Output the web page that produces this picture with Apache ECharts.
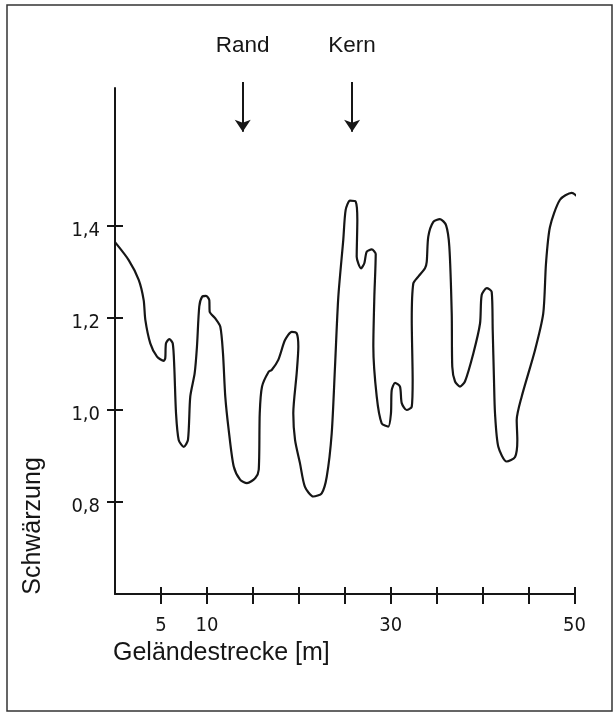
<!DOCTYPE html>
<html>
<head>
<meta charset="utf-8">
<title>Schwärzung</title>
<script src="https://cdn.jsdelivr.net/npm/echarts@6/dist/echarts.min.js"></script>
<style>
  html, body { margin: 0; padding: 0; background: #fff; }
  #main { width: 614px; height: 714px; }
</style>
</head>
<body>
<div id="main"></div>
<script>
// Messpunkte der Schwärzungskurve (Geländestrecke in m, Schwärzung)
var traceX = [0, 1.49, 2.58, 3.12, 3.30, 3.84, 4.57, 5.30, 5.47, 5.55, 5.91, 6.28, 6.45, 6.64, 6.93, 7.48, 7.94, 8.19, 8.67, 8.92,
  9.17, 9.47, 9.90, 10.26, 10.30, 10.91, 11.46, 11.75, 12.00, 12.37, 12.92, 13.63, 14.36, 15.27, 15.64, 15.75, 16.00, 16.72, 17.05, 17.77,
  18.50, 19.23, 19.77, 19.95, 19.77, 19.40, 19.59, 20.13, 20.67, 21.58, 22.49, 23.04, 23.58, 23.94, 24.30, 24.84, 25.10, 25.57, 26.19, 26.37,
  26.30, 26.77, 27.13, 27.39, 27.93, 28.37, 28.22, 28.11, 28.48, 29.02, 29.74, 30.03, 30.11, 30.47, 31.01, 31.20, 31.74, 32.29, 32.39, 32.29,
  32.46, 33.00, 33.73, 33.92, 34.09, 34.64, 35.36, 36.02, 36.38, 36.64, 36.70, 37.00, 37.54, 38.08, 38.99, 39.72, 39.90, 40.45, 40.99, 41.10,
  41.24, 41.35, 41.71, 42.62, 43.53, 43.78, 43.71, 44.25, 45.70, 46.60, 46.90, 47.33, 48.42, 49.69, 50.60, 51.14, 51.14];
var traceY = [1.365, 1.326, 1.283, 1.239, 1.196, 1.145, 1.116, 1.107, 1.113, 1.145, 1.154, 1.145, 1.094, 0.993, 0.935, 0.920, 0.935, 1.029, 1.080, 1.138,
  1.225, 1.246, 1.248, 1.239, 1.214, 1.199, 1.181, 1.123, 1.029, 0.957, 0.877, 0.848, 0.841, 0.852, 0.870, 0.993, 1.051, 1.083, 1.087, 1.109,
  1.152, 1.170, 1.167, 1.138, 1.080, 0.993, 0.935, 0.884, 0.833, 0.812, 0.819, 0.855, 0.949, 1.094, 1.246, 1.370, 1.435, 1.455, 1.453, 1.413,
  1.333, 1.308, 1.319, 1.344, 1.349, 1.339, 1.246, 1.138, 1.029, 0.971, 0.964, 0.993, 1.043, 1.059, 1.051, 1.015, 1.000, 1.007, 1.065, 1.196,
  1.275, 1.290, 1.308, 1.322, 1.377, 1.409, 1.415, 1.402, 1.355, 1.210, 1.094, 1.062, 1.051, 1.062, 1.123, 1.188, 1.250, 1.265, 1.257, 1.174,
  1.065, 0.993, 0.920, 0.888, 0.898, 0.935, 0.978, 1.029, 1.130, 1.210, 1.319, 1.398, 1.457, 1.472, 1.457, 1.428, 1.409];

var xTicks = [5, 10, 15, 20, 25, 30, 35, 40, 45, 50];
var xLabels = [5, 10, 30, 50];
var yTicks = [0.8, 1.0, 1.2, 1.4];

// Pfeile über der Kurve
var arrowNames = ['Rand', 'Kern'];
var arrowX = [13.9, 25.8];
var arrowTop = 1.713;
var arrowEnd = 1.605;

var ink = '#161616';
var narrow = '"Liberation Sans Narrow", "DejaVu Sans Condensed", "Liberation Sans", sans-serif';
var regular = '"Liberation Sans", Arial, sans-serif';

var myChart = echarts.init(document.getElementById('main'));

var points = traceX.map(function (x, i) { return [x, traceY[i]]; });

var option = {
  animation: false,
  grid: { left: 115, right: 39.5, top: 88, bottom: 120 },
  xAxis: [{
    type: 'value', min: 0, max: 50, position: 'bottom',
    axisLine: { lineStyle: { color: ink, width: 2 } },
    axisTick: { customValues: xTicks, length: 10, lineStyle: { color: ink, width: 2 } },
    axisLabel: {
      customValues: xLabels, margin: 22, color: ink, fontSize: 20,
      fontFamily: narrow
    },
    splitLine: { show: false }
  }, {
    type: 'value', min: 0, max: 50, position: 'bottom',
    axisLine: { show: false },
    axisTick: { customValues: xTicks, inside: true, length: 7, lineStyle: { color: ink, width: 2 } },
    axisLabel: { show: false },
    splitLine: { show: false }
  }],
  yAxis: [{
    type: 'value', min: 0.6, max: 1.7, position: 'left',
    axisLine: { show: true, lineStyle: { color: ink, width: 2 } },
    axisTick: { show: true, customValues: yTicks, length: 8, lineStyle: { color: ink, width: 2 } },
    axisLabel: {
      customValues: yTicks, margin: 15, color: ink, fontSize: 20,
      fontFamily: narrow, verticalAlign: 'top', lineHeight: 10,
      formatter: function (v) { return v.toFixed(1).replace('.', ','); }
    },
    splitLine: { show: false }
  }, {
    type: 'value', min: 0.6, max: 1.7, position: 'left',
    axisLine: { show: false },
    axisTick: { show: true, customValues: yTicks, inside: true, length: 8, lineStyle: { color: ink, width: 2 } },
    axisLabel: { show: false },
    splitLine: { show: false }
  }],
  series: [{
    type: 'line',
    data: points,
    smooth: 0.25,
    showSymbol: false,
    symbol: 'none',
    clip: false,
    lineStyle: { color: ink, width: 2.2 }
  }, {
    type: 'lines',
    coordinateSystem: 'cartesian2d',
    clip: false,
    symbol: ['none', 'arrow'],
    symbolSize: 12,
    lineStyle: { color: ink, width: 2, opacity: 1 },
    label: {
      show: true, position: 'start', distance: 25,
      formatter: '{b}', color: ink, fontSize: 22.5, fontFamily: regular
    },
    data: arrowX.map(function (x, i) {
      return { name: arrowNames[i], coords: [[x, arrowTop], [x, arrowEnd]] };
    })
  }],
  graphic: [{
    type: 'rect',
    shape: { x: 7, y: 5, width: 605, height: 706 },
    style: { fill: 'none', stroke: '#333', lineWidth: 1.5 }
  }, {
    type: 'text', x: 113, y: 653,
    style: {
      text: 'Geländestrecke [m]', fill: ink, fontSize: 25,
      fontFamily: regular, align: 'left', verticalAlign: 'middle'
    }
  }, {
    type: 'text', x: 33, y: 526, rotation: Math.PI / 2,
    style: {
      text: 'Schwärzung', fill: ink, fontSize: 25,
      fontFamily: regular, align: 'center', verticalAlign: 'middle'
    }
  }]
};

myChart.setOption(option);
</script>
</body>
</html>
